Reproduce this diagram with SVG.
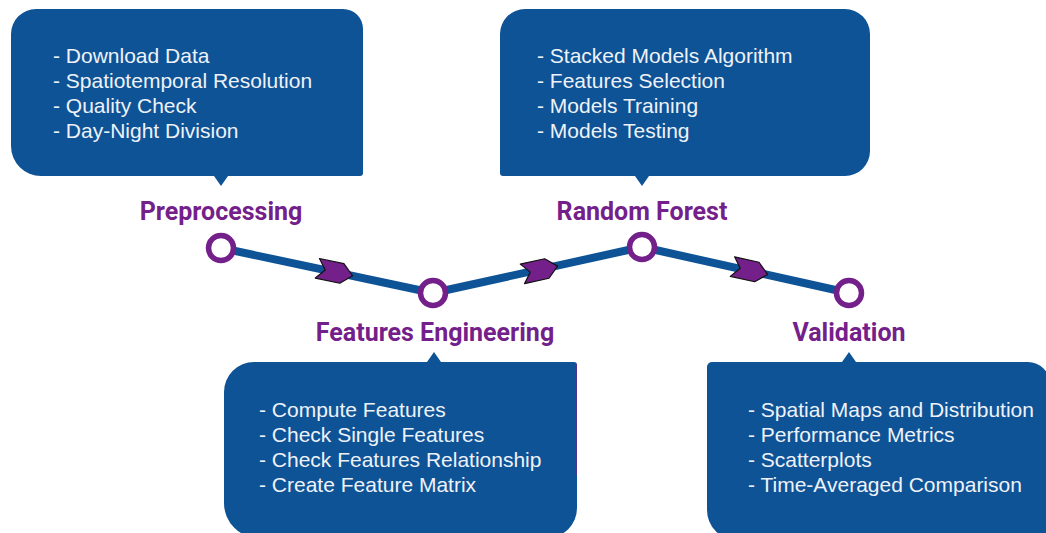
<svg xmlns="http://www.w3.org/2000/svg" width="1046" height="533" viewBox="0 0 1046 533">
  <style>
    .box { fill: #0e5396; }
    .item { font-family: "Liberation Sans", Arial, sans-serif; font-size: 21px; fill: #eef2f8; }
    .label { font-family: Roboto, "Liberation Sans", sans-serif; font-weight: bold; font-size: 25px; fill: #74208b; text-anchor: middle; }
    .track { fill: none; stroke: #0e5396; stroke-width: 8; stroke-linejoin: round; }
    .stop { fill: #ffffff; stroke: #74208b; stroke-width: 5.5; }
    .chev { fill: #74208b; stroke: #111111; stroke-width: 1.2; stroke-linejoin: round; }
  </style>
  <defs>
    <path id="chevron" d="M -18,-10 L 7,-10 L 18,0 L 7,10 L -18,10 L -10,0 Z"/>
  </defs>
  <rect width="1046" height="533" fill="#ffffff"/>

  <!-- connecting track with direction chevrons -->
  <g id="connectors">
    <polyline class="track" points="221,248 433,293 642,247 849,293"/>
    <use href="#chevron" class="chev" transform="translate(335,272) rotate(12)"/>
    <use href="#chevron" class="chev" transform="translate(540,270) rotate(-12.4)"/>
    <use href="#chevron" class="chev" transform="translate(750,270.5) rotate(12.5)"/>
  </g>

  <g id="preprocessing">
    <path class="box" d="M 36,9 H 343 A 20,20 0 0 1 363,29 V 173 A 3,3 0 0 1 360,176 H 228 L 221,186 L 214,176 H 41 A 30,30 0 0 1 11,146 V 34 A 25,25 0 0 1 36,9 Z"/>
    <text class="item" x="53" y="63">- Download Data</text>
    <text class="item" x="53" y="88">- Spatiotemporal Resolution</text>
    <text class="item" x="53" y="113">- Quality Check</text>
    <text class="item" x="53" y="138">- Day-Night Division</text>
    <text class="label" x="221" y="220">Preprocessing</text>
    <circle class="stop" cx="221" cy="248" r="12.5"/>
  </g>

  <g id="random-forest">
    <path class="box" d="M 525,9 H 845 A 25,25 0 0 1 870,34 V 151 A 25,25 0 0 1 845,176 H 649 L 642,186 L 635,176 H 503 A 3,3 0 0 1 500,173 V 34 A 25,25 0 0 1 525,9 Z"/>
    <text class="item" x="537" y="63">- Stacked Models Algorithm</text>
    <text class="item" x="537" y="88">- Features Selection</text>
    <text class="item" x="537" y="113">- Models Training</text>
    <text class="item" x="537" y="138">- Models Testing</text>
    <text class="label" x="642" y="220">Random Forest</text>
    <circle class="stop" cx="642" cy="247" r="12.5"/>
  </g>

  <g id="features-engineering">
    <path class="box" d="M 254,362 H 427 L 434,352 L 441,362 H 574 A 3,3 0 0 1 577,365 V 508 A 30,30 0 0 1 547,538 H 259 A 35,35 0 0 1 224,503 V 392 A 30,30 0 0 1 254,362 Z"/>
    <line x1="576.5" y1="364" x2="576.5" y2="475" stroke="#74208b" stroke-width="1" opacity="0.6"/>
    <text class="item" x="259" y="417">- Compute Features</text>
    <text class="item" x="259" y="442">- Check Single Features</text>
    <text class="item" x="259" y="467">- Check Features Relationship</text>
    <text class="item" x="259" y="492">- Create Feature Matrix</text>
    <text class="label" x="435" y="341">Features Engineering</text>
    <circle class="stop" cx="433" cy="293" r="12.5"/>
  </g>

  <g id="validation">
    <path class="box" d="M 712,362 H 842 L 849,352 L 856,362 H 1028 A 22,22 0 0 1 1050,384 V 540 H 737 A 30,30 0 0 1 707,510 V 367 A 5,5 0 0 1 712,362 Z"/>
    <text class="item" x="748" y="417">- Spatial Maps and Distribution</text>
    <text class="item" x="748" y="442">- Performance Metrics</text>
    <text class="item" x="748" y="467">- Scatterplots</text>
    <text class="item" x="748" y="492">- Time-Averaged Comparison</text>
    <text class="label" x="849" y="341">Validation</text>
    <circle class="stop" cx="849" cy="293" r="12.5"/>
  </g>
</svg>
